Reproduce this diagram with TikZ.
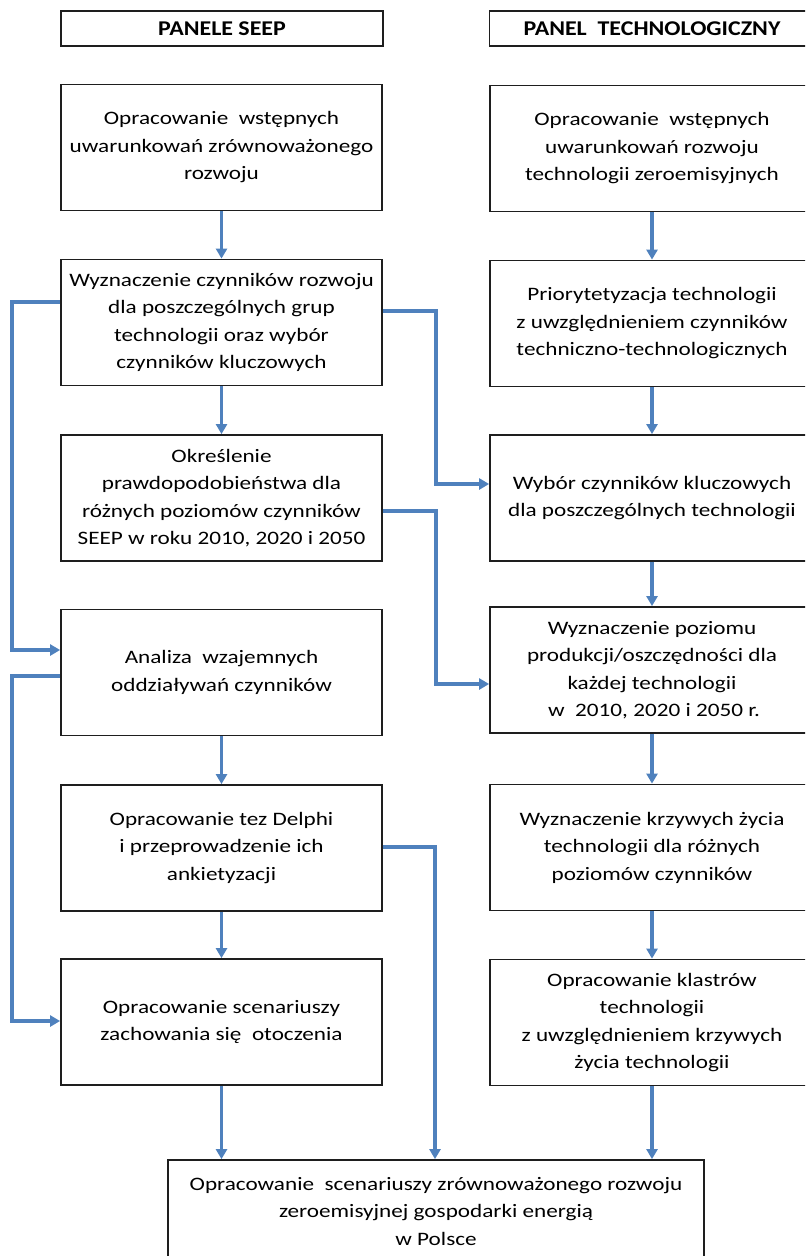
\documentclass[tikz,border=0pt]{standalone}
\usepackage{fontspec}
\setmainfont{Carlito}[FakeStretch=1.22]
\newfontfamily\headfont{Carlito}[FakeStretch=1.14]
\usetikzlibrary{arrows.meta,positioning}
\definecolor{flowblue}{RGB}{79,129,189}
\definecolor{boxgray}{RGB}{30,30,30}

\begin{document}
\begin{tikzpicture}[x=0.5pt,y=-0.5pt,
    box/.style={draw=boxgray,line width=0.9pt,align=center,inner sep=0pt,
      font=\fontsize{9.5}{13.75}\selectfont},
    lbox/.style={box,minimum width=160.5pt,minimum height=63pt},
    rbox/.style={box,minimum width=162pt,minimum height=63pt},
    head/.style={box,minimum height=17.5pt,font=\headfont\bfseries\fontsize{10.5}{12}\selectfont},
    conn/.style={-{Triangle[length=5pt,width=5.5pt]},flowblue,line width=1.7pt}]
  \clip (0,0) rectangle (805,1256);

  % headers
  \node[head,minimum width=161pt] (hl) at (222,28.5) {PANELE SEEP};
  \node[head,minimum width=162.5pt] (hr) at (652,28.5) {PANEL\ \ TECHNOLOGICZNY};

  % panele SEEP
  \node[lbox] (l1) at (221.5,147.5) {Opracowanie\ \ wstępnych\\uwarunkowań zrównoważonego\\rozwoju};
  \node[lbox] (l2) at (221.5,322.5) {Wyznaczenie czynników rozwoju\\dla poszczególnych grup\\technologii oraz wybór\\czynników kluczowych};
  \node[lbox] (l3) at (221.5,498) {Określenie\\prawdopodobieństwa dla\\różnych poziomów czynników\\SEEP w roku 2010, 2020 i 2050};
  \node[lbox] (l4) at (221.5,672.5) {Analiza\ \ wzajemnych\\oddziaływań czynników};
  \node[lbox] (l5) at (221.5,848) {Opracowanie tez Delphi\\i przeprowadzenie ich\\ankietyzacji};
  \node[lbox] (l6) at (221.5,1022) {Opracowanie scenariuszy\\zachowania się\ \ otoczenia};

  % panel technologiczny
  \node[rbox] (r1) at (652,148.5) {Opracowanie\ \ wstępnych\\uwarunkowań rozwoju\\technologii zeroemisyjnych};
  \node[rbox] (r2) at (652,323.5) {Priorytetyzacja technologii\\z uwzględnieniem czynników\\techniczno-technologicznych};
  \node[rbox] (r3) at (652,498) {Wybór czynników kluczowych\\dla poszczególnych technologii};
  \node[rbox] (r4) at (652,670) {Wyznaczenie poziomu\\produkcji/oszczędności dla\\każdej technologii\\\hspace*{2pt}w\ \ 2010, 2020 i 2050 r.};
  \node[rbox] (r5) at (652,847.5) {Wyznaczenie krzywych życia\\technologii dla różnych\\poziomów czynników};
  \node[rbox] (r6) at (652,1022.5) {Opracowanie klastrów\\technologii\\z uwzględnieniem krzywych\\życia technologii};

  % wynik
  \node[box,minimum width=268pt,minimum height=51pt] (wyn) at (436,1211) {Opracowanie\ \ scenariuszy zrównoważonego rozwoju\\zeroemisyjnej gospodarki energią\\w Polsce};

  \draw[conn] (l1) -- (l2);
  \draw[conn] (l2) -- (l3);
  \draw[conn] (l4) -- (l5);
  \draw[conn] (l5) -- (l6);
  \draw[conn] (l6.south) -- (l6.south |- wyn.north);
  \draw[conn] (r1) -- (r2);
  \draw[conn] (r2) -- (r3);
  \draw[conn] (r3) -- (r4);
  \draw[conn] (r4) -- (r5);
  \draw[conn] (r5) -- (r6);
  \draw[conn] (r6.south) -- (r6.south |- wyn.north);

  \draw[conn] (l2.west |- 0,302) -- (12,302) -- (12,650) -- (l4.west |- 0,650);
  \draw[conn] (l4.west |- 0,676) -- (12,676) -- (12,1021) -- (l6.west |- 0,1021);
  \draw[conn] (l2.east |- 0,311) -- (436,311) -- (436,484) -- (r3.west |- 0,484);
  \draw[conn] (l3.east |- 0,511) -- (436,511) -- (436,684) -- (r4.west |- 0,684);
  \draw[conn] (l5.east |- 0,847) -- (435,847) -- (wyn.north -| 435,0);
\end{tikzpicture}
\end{document}
